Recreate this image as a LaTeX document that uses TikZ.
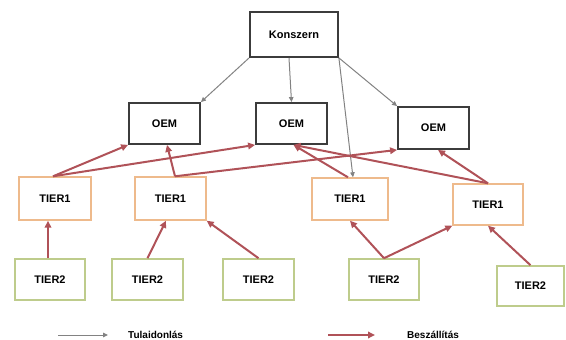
\documentclass[tikz,border=0pt]{standalone}
\usepackage{fontspec}
\setmainfont{Liberation Sans}
\usetikzlibrary{arrows.meta}
\definecolor{boxgray}{RGB}{60,60,60}
\definecolor{tierone}{RGB}{238,186,140}
\definecolor{tiertwo}{RGB}{190,204,140}
\definecolor{supply}{RGB}{176,82,88}
\definecolor{owner}{RGB}{130,130,130}
\tikzset{
    box/.style={draw, rectangle, align=center, font=\fontsize{11}{13}\selectfont\bfseries, inner sep=0pt},
    topbox/.style={box, draw=boxgray, line width=1.8pt},
    tieronebox/.style={box, draw=tierone, line width=1.4pt},
    tiertwobox/.style={box, draw=tiertwo, line width=1.6pt},
    supplyarrow/.style={draw=supply, line width=2pt, -{Triangle[length=7pt,width=6.5pt]}},
    ownerarrow/.style={draw=owner, line width=1pt, -{Triangle[length=5pt,width=4.5pt]}},
}
\begin{document}
\begin{tikzpicture}[x=1pt,y=-1pt]
        \useasboundingbox (0,0) rectangle (566,340);
        % konszern and the OEMs
        \node[topbox, minimum width=88pt, minimum height=45pt] (konszern) at (294,34.5) {Konszern};
        \node[topbox, minimum width=71pt, minimum height=41pt] (oem1) at (164.5,123.5) {OEM};
        \node[topbox, minimum width=71pt, minimum height=41pt] (oem2) at (291.5,123.5) {OEM};
        \node[topbox, minimum width=71pt, minimum height=42pt] (oem3) at (433.5,128) {OEM};
        % first tier suppliers
        \node[tieronebox, minimum width=72pt, minimum height=43pt] (t1a) at (55,198.5) {TIER1};
        \node[tieronebox, minimum width=71pt, minimum height=43pt] (t1b) at (170.5,198.5) {TIER1};
        \node[tieronebox, minimum width=76pt, minimum height=42pt] (t1c) at (350,199) {TIER1};
        \node[tieronebox, minimum width=70pt, minimum height=41pt] (t1d) at (488,204.5) {TIER1};
        % second tier suppliers
        \node[tiertwobox, minimum width=70pt, minimum height=41pt] (t2a) at (50,279.5) {TIER2};
        \node[tiertwobox, minimum width=71pt, minimum height=41pt] (t2b) at (147.5,279.5) {TIER2};
        \node[tiertwobox, minimum width=71pt, minimum height=41pt] (t2c) at (258.5,279.5) {TIER2};
        \node[tiertwobox, minimum width=70pt, minimum height=41pt] (t2d) at (384,279.5) {TIER2};
        \node[tiertwobox, minimum width=67pt, minimum height=40pt] (t2e) at (530.5,286) {TIER2};

        % ownership
        \draw[ownerarrow] (konszern.south west) -- (oem1.north east);
        \draw[ownerarrow] ([xshift=-5pt]konszern.south) -- (oem2.north);
        \draw[ownerarrow] (konszern.south east) -- ([xshift=3pt]t1c.north);
        \draw[ownerarrow] (konszern.south east) -- (oem3.north west);

        % supply, tier1 -> OEM
        \draw[supplyarrow] ([xshift=-2pt]t1a.north) -- (oem1.south west);
        \draw[supplyarrow] ([xshift=-2pt]t1a.north) -- (oem2.south west);
        \draw[supplyarrow] ([xshift=4.5pt]t1b.north) -- ([xshift=2.5pt]oem1.south);
        \draw[supplyarrow] ([xshift=4.5pt]t1b.north) -- (oem3.south west);
        \draw[supplyarrow] ([xshift=-2pt]t1c.north) -- ([xshift=2pt]oem2.south);
        \draw[supplyarrow] (t1d.north) -- ([xshift=2pt]oem2.south);
        \draw[supplyarrow] (t1d.north) -- ([xshift=4.5pt]oem3.south);

        % supply, tier2 -> tier1
        \draw[supplyarrow] ([xshift=-2pt]t2a.north) -- ([xshift=-2pt]t2a.north |- t1a.south);
        \draw[supplyarrow] (t2b.north) -- ([xshift=-4.5pt]t1b.south);
        \draw[supplyarrow] (t2c.north) -- (t1b.south east);
        \draw[supplyarrow] (t2d.north) -- (t1c.south);
        \draw[supplyarrow] (t2d.north) -- (t1d.south west);
        \draw[supplyarrow] (t2e.north) -- (t1d.south);

        % legend
        \coordinate (ownstart) at (58,335);
        \coordinate (ownend) at (108,335);
        \coordinate (supstart) at (328,335);
        \coordinate (supend) at (375,335);
        \draw[ownerarrow] (ownstart) -- (ownend);
        \node[anchor=west, font=\fontsize{10}{12}\selectfont\bfseries, inner sep=0pt] (ownlabel) at (128,335) {Tulaidonlás};
        \draw[supplyarrow] (supstart) -- (supend);
        \node[anchor=west, font=\fontsize{10}{12}\selectfont\bfseries, inner sep=0pt] (suplabel) at (407,335) {Beszállítás};
    \end{tikzpicture}
\end{document}
